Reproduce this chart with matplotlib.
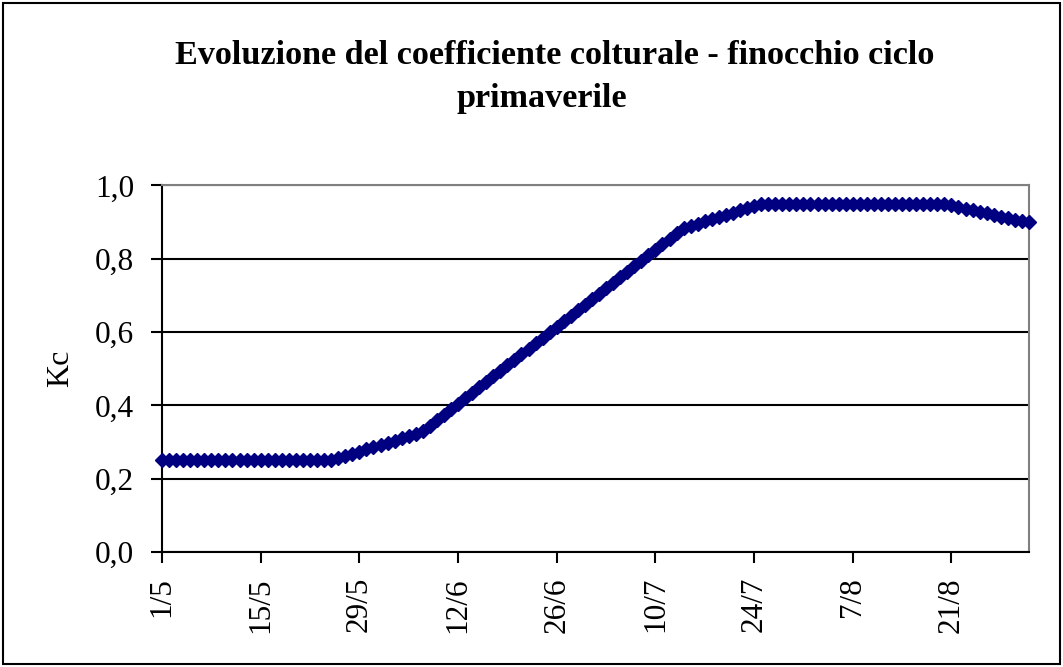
import datetime as dt
import matplotlib
matplotlib.use("Agg")
import matplotlib.pyplot as plt
from matplotlib.patches import Rectangle

# Kc giornaliero dal 1/5
kc = [
    0.25, 0.25, 0.25, 0.25, 0.25, 0.25, 0.25, 0.25, 0.25, 0.25,
    0.25, 0.25, 0.25, 0.25, 0.25, 0.25, 0.25, 0.25, 0.25, 0.25,
    0.25, 0.25, 0.25, 0.25, 0.25,
    0.256, 0.262, 0.268, 0.274, 0.280, 0.286, 0.292, 0.298, 0.304, 0.310,
    0.316, 0.322, 0.330,
    0.345, 0.360, 0.375, 0.390, 0.405, 0.420, 0.435, 0.450, 0.465, 0.480,
    0.495, 0.510, 0.525, 0.540, 0.555, 0.570, 0.585, 0.600, 0.615, 0.630,
    0.645, 0.660, 0.675, 0.690, 0.705, 0.720, 0.735, 0.750, 0.765, 0.780,
    0.795, 0.810, 0.825, 0.840, 0.855, 0.870, 0.885, 0.890,
    0.896, 0.902, 0.908, 0.914, 0.920, 0.926, 0.932, 0.938, 0.944, 0.950,
    0.95, 0.95, 0.95, 0.95, 0.95, 0.95, 0.95, 0.95, 0.95, 0.95,
    0.95, 0.95, 0.95, 0.95, 0.95, 0.95, 0.95, 0.95, 0.95, 0.95,
    0.95, 0.95, 0.95, 0.95, 0.95, 0.95,
    0.946, 0.942, 0.937, 0.933, 0.928, 0.924, 0.919, 0.915, 0.910, 0.906,
    0.903, 0.900,
]
start = dt.date(2009, 5, 1)
dates = [start + dt.timedelta(days=i) for i in range(len(kc))]

tick_labels = ["1/5", "15/5", "29/5", "12/6", "26/6", "10/7", "24/7", "7/8", "21/8"]
tick_dates = [dt.date(2009, int(t.split("/")[1]), int(t.split("/")[0])) for t in tick_labels]
y_ticks = [0.0, 0.2, 0.4, 0.6, 0.8, 1.0]

plt.rcParams['font.family'] = ['Liberation Serif', 'DejaVu Serif']

fig = plt.figure(figsize=(10.63, 6.67), dpi=100)
fig.patches.append(Rectangle((0.003, 0.004), 0.994, 0.992, transform=fig.transFigure,
                             fill=False, edgecolor="black", linewidth=1.5))

ax = fig.add_axes([0.1524, 0.1724, 0.8156, 0.5495])
ax.plot(dates, kc, color="#000080", linewidth=2, marker="D", markersize=7.5,
        markeredgecolor="#000080", markerfacecolor="#000080", clip_on=False, zorder=3)

ax.set_xlim(dates[0], dates[-1])
ax.set_ylim(0, 1.0)
ax.set_xticks(tick_dates)
ax.set_xticklabels(tick_labels, rotation=90)
ax.set_yticks(y_ticks)
ax.set_yticklabels([f"{v:.1f}".replace(".", ",") for v in y_ticks])
ax.tick_params(axis="both", direction="out", length=8, width=1.5, labelsize=22.5)
ax.tick_params(axis="x", pad=10)
ax.tick_params(axis="y", pad=12)

ax.grid(axis="y", color="black", linewidth=1.5)
ax.set_axisbelow(True)
for s in ["left", "bottom"]:
    ax.spines[s].set_linewidth(1.5)
for s in ["top", "right"]:
    ax.spines[s].set_color("#808080")
    ax.spines[s].set_linewidth(1.5)

ylab = ax.set_ylabel("Kc", fontsize=23)
ylab.set_verticalalignment("center")
ax.yaxis.set_label_coords(-0.117, 0.5)

fig.text(0.5216, 1 - 64.3 / 667, "Evoluzione del coefficiente colturale - finocchio ciclo",
         ha="center", va="baseline", fontsize=24.6, fontweight="bold")
fig.text(0.5099, 1 - 106.7 / 667, "primaverile",
         ha="center", va="baseline", fontsize=24.6, fontweight="bold")

fig.savefig("out.png", dpi=100)
